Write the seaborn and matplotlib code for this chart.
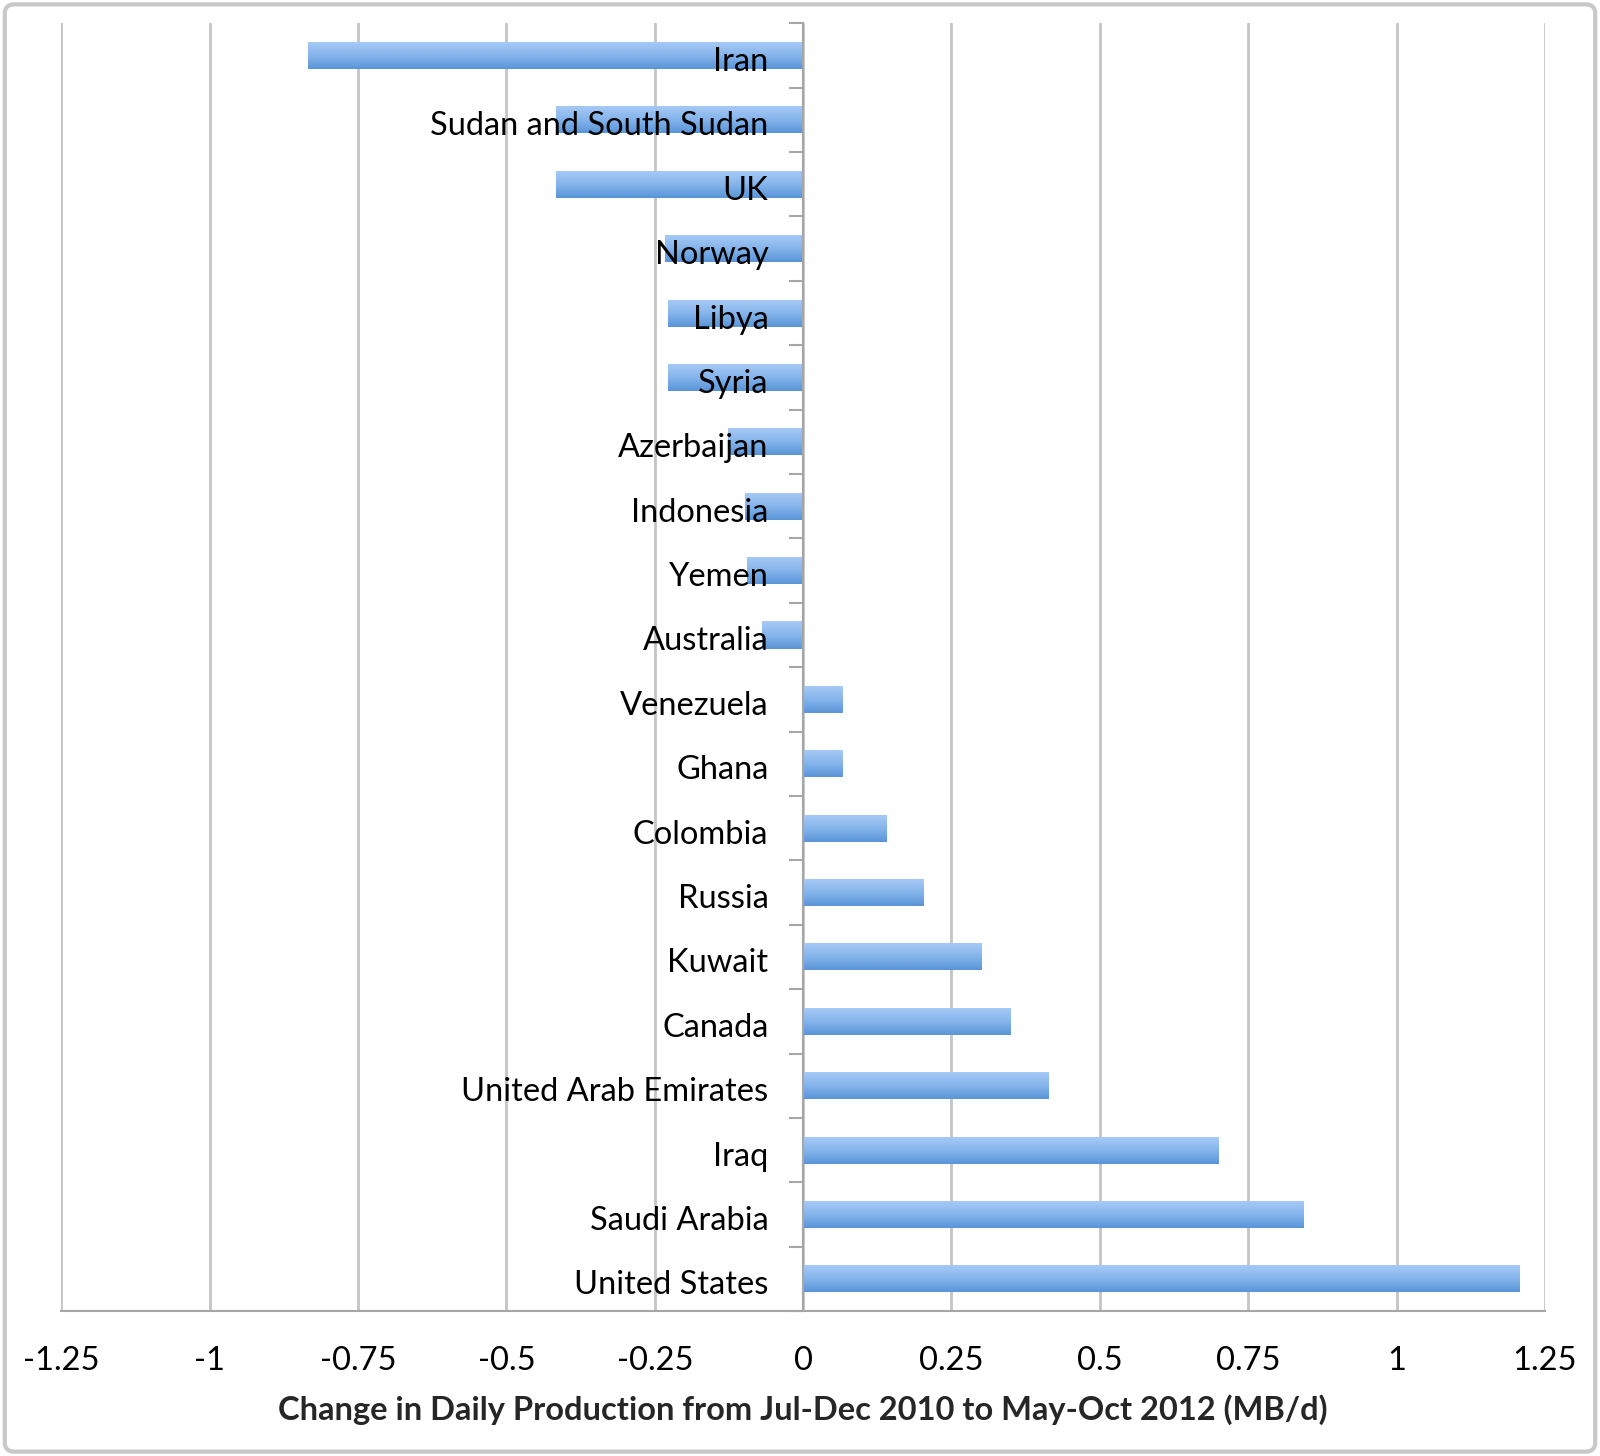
import numpy as np
import pandas as pd
import matplotlib
matplotlib.use("Agg")
import matplotlib.pyplot as plt
import matplotlib.transforms as mtransforms
import seaborn as sns
from matplotlib.colors import LinearSegmentedColormap
from matplotlib.patches import FancyBboxPatch
from matplotlib.ticker import FixedLocator

countries = ["Iran", "Sudan and South Sudan", "UK", "Norway", "Libya", "Syria",
             "Azerbaijan", "Indonesia", "Yemen", "Australia", "Venezuela", "Ghana",
             "Colombia", "Russia", "Kuwait", "Canada", "United Arab Emirates",
             "Iraq", "Saudi Arabia", "United States"]
change = [-0.834, -0.416, -0.416, -0.232, -0.227, -0.227, -0.127, -0.098, -0.095,
          -0.070, 0.067, 0.067, 0.141, 0.203, 0.301, 0.349, 0.413, 0.700, 0.843, 1.207]
xticks = [-1.25, -1, -0.75, -0.5, -0.25, 0, 0.25, 0.5, 0.75, 1, 1.25]
xticklabels = ["-1.25", "-1", "-0.75", "-0.5", "-0.25", "0", "0.25", "0.5", "0.75", "1", "1.25"]
xlabel = "Change in Daily Production from Jul-Dec 2010 to May-Oct 2012 (MB/d)"

df = pd.DataFrame({"country": countries, "change": change})

sns.set_theme(style="white")
plt.rcParams["font.family"] = ["Lato", "DejaVu Sans"]

fig = plt.figure(figsize=(16, 14.56), dpi=100)
ax = fig.add_axes([0.0383, 0.0995, 0.9273, 0.8845])

sns.barplot(data=df, x="change", y="country", orient="h", ax=ax,
            color="#7aaee6", width=0.42, saturation=1, edgecolor="none")

ax.set_xlim(-1.25, 1.25)
ax.set_ylim(len(countries) - 0.5, -0.5)

# gradient fill on each bar
cmap = LinearSegmentedColormap.from_list("g", ["#a8cbf6", "#86b5ec", "#5a95d8"])
grad = np.linspace(0, 1, 64).reshape(-1, 1)
for p in list(ax.patches):
    x0, y0 = p.get_x(), p.get_y()
    w, h = p.get_width(), p.get_height()
    im = ax.imshow(grad, cmap=cmap, extent=[x0, x0 + w, y0 + h, y0],
                   aspect="auto", zorder=1.6, interpolation="bicubic")
    im.set_clip_path(p)
    p.set_zorder(1.5)
ax.set_xlim(-1.25, 1.25)
ax.set_ylim(len(countries) - 0.5, -0.5)

# axes styling
ax.spines["top"].set_visible(False)
ax.spines["right"].set_visible(False)
ax.spines["left"].set_position(("data", 0))
for s in ["left", "bottom"]:
    ax.spines[s].set_color("#a6a6a6")
    ax.spines[s].set_linewidth(1.5)

ax.set_xticks(xticks)
ax.set_xticklabels(xticklabels, fontsize=23.5)
ax.xaxis.grid(True, color="#c4c4c4", linewidth=2)
ax.xaxis.set_zorder(0.5)
ax.yaxis.set_zorder(5)

ax.tick_params(axis="x", which="major", direction="out", length=10, width=1.5,
               color="#a6a6a6", pad=15, labelcolor="black")
ax.tick_params(axis="y", which="major", length=0, pad=25, labelsize=23.5, labelcolor="black")
ax.yaxis.set_minor_locator(FixedLocator(np.arange(-0.5, len(countries), 1.0)))
ax.tick_params(axis="y", which="minor", direction="out", length=10, width=1.5, color="#a6a6a6", left=True)
ax.set_ylabel("")
ax.set_xlabel(xlabel, fontsize=23.5, fontweight="bold", labelpad=13)

# nudge category labels slightly down
offset = mtransforms.ScaledTranslation(0, -2.5 / 72, fig.dpi_scale_trans)
for lab in ax.get_yticklabels():
    lab.set_transform(lab.get_transform() + offset)

fig.patches.append(FancyBboxPatch((0.003, 0.003), 0.994, 0.994,
                                  boxstyle="round,pad=0,rounding_size=0.006",
                                  transform=fig.transFigure, facecolor="none",
                                  edgecolor="#c8c8c8", linewidth=3))

fig.savefig("out.png", dpi=100)
